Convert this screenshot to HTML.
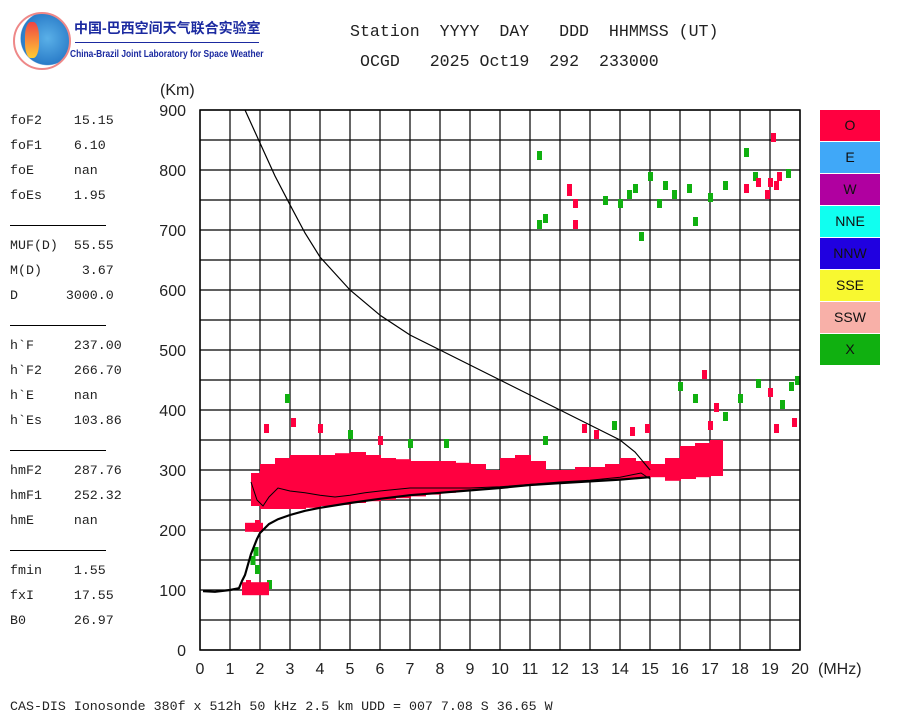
<!DOCTYPE html>
<html><head><meta charset="utf-8">
<style>
body{margin:0;background:#fff;width:900px;height:720px;overflow:hidden;position:relative;font-family:"Liberation Sans",sans-serif}
.mono{font-family:"Liberation Mono",monospace}
.t{position:absolute;white-space:pre}
.sep{position:absolute;left:10px;width:96px;height:1px;background:#000}
</style></head>
<body>
<div style="position:absolute;left:13px;top:12px;width:54px;height:54px;border-radius:50%;border:2px solid #e88;background:radial-gradient(circle at 60% 45%,#5ab0e8 0,#2a7cc8 60%,#fff 62%)">
<div style="position:absolute;left:10px;top:8px;width:14px;height:36px;background:linear-gradient(#e44,#fc3);border-radius:40%"></div></div>
<div class="t" style="left:74px;top:18px;font-size:14px;color:#1b2aa0;font-weight:bold;font-family:'Liberation Sans','Noto Sans CJK SC',sans-serif">中国-巴西空间天气联合实验室</div>
<div style="position:absolute;left:75px;top:42px;width:184px;height:1px;background:#1b2aa0"></div>
<div class="t" style="left:70px;top:48px;font-size:10.5px;color:#1b2aa0;font-weight:bold;transform:scaleX(0.8);transform-origin:0 0">China-Brazil Joint Laboratory for Space Weather</div>
<div class="t mono" style="left:350px;top:22px;font-size:16.6px;color:#222">Station  YYYY  DAY   DDD  HHMMSS (UT)</div>
<div class="t mono" style="left:360px;top:52px;font-size:16.6px;color:#222">OCGD   2025 Oct19  292  233000</div>
<div class="t mono" style="left:10px;top:108px;font-size:13.3px;line-height:25px;color:#222">foF2    15.15
foF1    6.10
foE     nan
foEs    1.95

MUF(D)  55.55
M(D)     3.67
D      3000.0

h`F     237.00
h`F2    266.70
h`E     nan
h`Es    103.86

hmF2    287.76
hmF1    252.32
hmE     nan

fmin    1.55
fxI     17.55
B0      26.97</div>
<div class="sep" style="top:225px"></div><div class="sep" style="top:325px"></div><div class="sep" style="top:450px"></div><div class="sep" style="top:550px"></div>
<div class="t mono" style="left:10px;top:699px;font-size:13.3px;color:#222">CAS-DIS Ionosonde 380f x 512h 50 kHz 2.5 km UDD = 007 7.08 S 36.65 W</div>
<svg id="chart" width="900" height="720" style="position:absolute;left:0;top:0"></svg>
<script>
const freqTicks=[0,1,2,3,4,5,6,7,8,9,10,11,12,13,14,15,16,17,18,19,20];
const heightTicks=[0,100,200,300,400,500,600,700,800,900];
const legendLabels=["O","E","W","NNE","NNW","SSE","SSW","X"];
const legendColors=["#ff0040","#40a8f8","#b000a0","#10fff0","#2000e0","#f8f830","#f8b0a8","#10b010"];
const bandFreq=[1.7,2,2.5,3,3.5,4,4.5,5,5.5,6,6.5,7,7.5,8,8.5,9,9.5,10,10.5,11,11.5,12,12.5,13,13.5,14,14.5,15,15.5,16,16.5,17,17.4];
const bandLow=[240,235,235,235,237,240,242,245,248,250,253,256,259,262,265,268,270,272,274,276,277,279,280,282,283,285,287,288,282,285,288,290,292];
const bandHigh=[295,310,320,325,325,325,328,330,325,320,318,315,315,315,312,310,300,320,325,315,300,300,305,305,310,320,315,310,320,340,345,350,330];
const mufFreq=[1.5,2,2.5,3,3.5,4,5,6,7,8,9,10,11,12,13,14,14.5,15];
const mufHeight=[900,845,790,742,695,655,600,558,525,500,475,450,425,400,375,350,330,300];
const trueFreq=[0.1,0.5,1,1.3,1.4,1.5,1.7,1.9,2,2.3,2.6,3,3.5,4,5,6,7,8,9,10,11,12,13,14,15];
const trueHeight=[98,97,100,103,115,125,160,185,195,210,218,225,232,237,245,252,258,262,266,270,275,278,281,284,288];
const vhFreq=[1.7,1.9,2.1,2.3,2.6,3,3.5,4,4.5,5,5.5,6,7,8,9,10,11,12,13,14,14.7,15];
const vhHeight=[280,250,240,255,270,265,262,258,255,258,262,265,270,270,270,272,276,280,283,288,295,285];
const dotFreq=[11.3,11.3,11.5,12.3,12.5,12.5,13.5,14,14.3,14.5,14.7,15,15.3,15.5,15.8,16.3,16.5,17,17.5,18.2,18.5,19,19.3,19.6,19.1,18.2,18.6,18.9,19.2,12.3,2.9,3.1,2.2,4,5,6,7,8.2,11.5,16,16.8,17.2,17.5,18,18.6,19,19.4,19.7,19.9,19.2,19.8,17,16.5,12.8,13.2,13.8,14.4,14.9,1.85,1.9,1.75,2.3,1.6,1.9,1.85];
const dotHeight=[825,710,720,765,745,710,750,745,760,770,690,790,745,775,760,770,715,755,775,830,790,780,790,795,855,770,780,760,775,770,420,380,370,370,360,350,345,345,350,440,460,405,390,420,445,430,410,440,450,370,380,375,420,370,360,375,365,370,165,135,150,110,110,210,205];
const dotColor=["g","g","g","r","r","r","g","g","g","g","g","g","g","g","g","g","g","g","g","g","g","r","r","g","r","r","r","r","r","r","g","r","r","r","g","r","g","g","g","g","r","r","g","g","g","r","g","g","g","r","r","r","g","r","r","g","r","r","g","g","g","g","r","r","g"];
const X=f=>200+f*30, Y=h=>650-h*0.6;
const svg=document.getElementById('chart');const NS="http://www.w3.org/2000/svg";
function mk(t,a){const e=document.createElementNS(NS,t);for(const k in a)e.setAttribute(k,a[k]);svg.appendChild(e);return e;}
for(let h=0;h<=900;h+=50){const l=mk('line',{x1:200,x2:800,y1:Y(h),y2:Y(h),stroke:'#000','stroke-width':1.2});

}
freqTicks.forEach(f=>{const l=mk('line',{x1:X(f),x2:X(f),y1:Y(0),y2:Y(900),stroke:'#000','stroke-width':1.2});


const t=mk('text',{x:X(f),y:674,'font-size':16,'text-anchor':'middle',fill:'#222','font-family':'Liberation Sans'});t.textContent=f;

});
heightTicks.forEach(h=>{const t=mk('text',{x:186,y:Y(h)+6,'font-size':16,'text-anchor':'end',fill:'#222','font-family':'Liberation Sans'});t.textContent=h;

});
let t1=mk('text',{x:160,y:95,'font-size':16,fill:'#222','font-family':'Liberation Sans'});t1.textContent='(Km)';


let t2=mk('text',{x:818,y:674,'font-size':16,fill:'#222','font-family':'Liberation Sans'});t2.textContent='(MHz)';


for(let i=0;i<bandFreq.length-1;i++){const r=mk('rect',{x:X(bandFreq[i]),y:Y(bandHigh[i]),width:X(bandFreq[i+1])-X(bandFreq[i])+1,height:Y(bandLow[i])-Y(bandHigh[i]),fill:'#ff0040'});

}
dotFreq.forEach((f,i)=>{const r=mk('rect',{x:X(f)-2,y:Y(dotHeight[i])-4,width:5,height:9,fill:dotColor[i]=='g'?'#10b010':'#ff0040'});

});
let r1=mk('rect',{x:X(1.4),y:Y(113),width:X(2.3)-X(1.4),height:13,fill:'#ff0040'});


let r2=mk('rect',{x:X(1.5),y:Y(212),width:X(2.1)-X(1.5),height:9,fill:'#ff0040'});


function line(fs,hs,w,name){const p=mk('polyline',{points:fs.map((f,i)=>X(f)+','+Y(hs[i])).join(' '),fill:'none',stroke:'#000','stroke-width':w});

}
line(mufFreq,mufHeight,1.2,'muf-curve');
line(trueFreq,trueHeight,2.2,'true-height-profile');
line(vhFreq,vhHeight,1,'virtual-height-trace');
let fr=mk('rect',{x:200,y:110,width:600,height:540,fill:'none',stroke:'#000','stroke-width':1.5});


legendLabels.forEach((s,i)=>{const y=110+i*32;const r=mk('rect',{x:820,y:y,width:60,height:31,fill:legendColors[i]});


const t=mk('text',{x:850,y:y+20,'font-size':14,'text-anchor':'middle',fill:'#111','font-family':'Liberation Sans'});t.textContent=s;

});
</script>
</body></html>
